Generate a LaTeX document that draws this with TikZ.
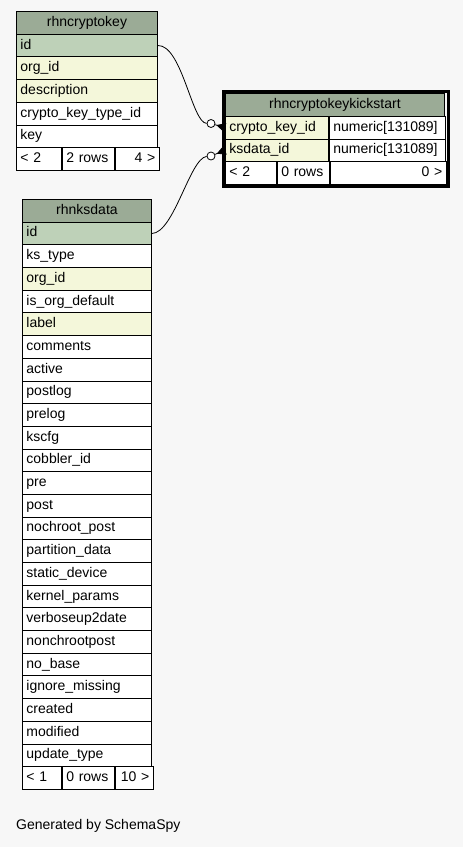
\documentclass[tikz,border=0pt]{standalone}
\usepackage{fontspec}
\setmainfont{Liberation Sans}
\usetikzlibrary{arrows.meta}
\definecolor{pagebg}{HTML}{F7F7F7}
\definecolor{headcol}{HTML}{9BAB96}
\definecolor{pkcol}{HTML}{BED1B8}
\definecolor{fkcol}{HTML}{F4F7DA}

\begin{document}
\begin{tikzpicture}[x=1pt,y=-1pt]
    \tikzstyle{cell}=[draw=black,line width=0.9pt,anchor=north west,inner xsep=4pt,inner ysep=0pt,text height=10pt,text depth=3pt,font=\fontsize{14}{16}\selectfont]
    \tikzstyle{odot}=[circle,draw=black,fill=white,line width=0.8pt,minimum size=8pt,inner sep=0pt]
    \tikzstyle{rel}=[line width=0.8pt]
    \tikzstyle{crow}=[line width=0.8pt,-{Triangle[reversed,length=9pt,width=9pt]}]

    \fill[pagebg] (0,0) rectangle (463,847);
    \useasboundingbox (0,0) rectangle (463,847);

    % rhncryptokey
    \node[cell,fill=headcol,minimum height=22.7pt,text width=133pt,align=center] (ck) at (16,11) {rhncryptokey};
    \foreach \fld/\fc [count=\i] in {id/pkcol, org\_id/fkcol, description/fkcol, crypto\_key\_type\_id/white, key/white}
        \node[cell,fill=\fc,minimum height=22.7pt,text width=133pt,align=left] (ck-\i) at (16,{11+22.7*\i}) {\fld};
    \node[cell,fill=white,minimum height=22.7pt,text width=37pt,align=left] (ck-prev) at (16,147.2) {< 2};
    \node[cell,fill=white,minimum height=22.7pt,text width=44pt,align=left] (ck-rows) at (ck-prev.north east) {2 rows};
    \node[cell,fill=white,minimum height=22.7pt,text width=36pt,align=right] (ck-next) at (ck-rows.north east) {4 >};

    % rhnksdata
    \node[cell,fill=headcol,minimum height=22.69pt,text width=121pt,align=center] (kd) at (22,199) {rhnksdata};
    \foreach \fld/\fc [count=\i] in {id/pkcol, ks\_type/white, org\_id/fkcol, is\_org\_default/white, label/fkcol,
            comments/white, active/white, postlog/white, prelog/white, kscfg/white, cobbler\_id/white, pre/white,
            post/white, nochroot\_post/white, partition\_data/white, static\_device/white, kernel\_params/white,
            verboseup2date/white, nonchrootpost/white, no\_base/white, ignore\_missing/white, created/white,
            modified/white, update\_type/white}
        \node[cell,fill=\fc,minimum height=22.69pt,text width=121pt,align=left] (kd-\i) at (22,{199+22.69*\i}) {\fld};
    \node[cell,fill=white,minimum height=22.69pt,text width=31pt,align=left] (kd-prev) at (22,766.25) {< 1};
    \node[cell,fill=white,minimum height=22.69pt,text width=44pt,align=left] (kd-rows) at (kd-prev.north east) {0 rows};
    \node[cell,fill=white,minimum height=22.69pt,text width=30pt,align=right] (kd-next) at (kd-rows.north east) {10 >};

    % rhncryptokeykickstart
    \node[cell,fill=headcol,minimum height=22.75pt,text width=211pt,align=center] (kk) at (225,93) {rhncryptokeykickstart};
    \foreach \fld [count=\i] in {crypto\_key\_id, ksdata\_id} {
        \node[cell,fill=fkcol,minimum height=22.75pt,text width=95pt,align=left] (kk-\i) at (225,{93+22.75*\i}) {\fld};
        \node[cell,fill=white,minimum height=22.75pt,text width=108pt,align=left] (kk-\i-t) at (kk-\i.north east) {numeric[131089]};
    }
    \node[cell,fill=white,minimum height=22.75pt,text width=43pt,align=left] (kk-prev) at (225,161.25) {< 2};
    \node[cell,fill=white,minimum height=22.75pt,text width=44pt,align=left] (kk-rows) at (kk-prev.north east) {0 rows};
    \node[cell,fill=white,minimum height=22.75pt,text width=108pt,align=right] (kk-next) at (kk-rows.north east) {0 >};
    \draw[line width=3pt] ([xshift=-1.5pt,yshift=1.5pt]kk.north west) rectangle ([xshift=1.5pt,yshift=-1.5pt]kk-next.south east);

    % relations
    \node[odot] (o1) at (211,123.5) {};
    \node[odot] (o2) at (211,156) {};
    \draw[rel] (ck-1.east) .. controls (182,45) and (192,123) .. (o1);
    \draw[crow] (o1) -- (kk-1.west);
    \draw[rel] (kd-1.east) .. controls (174,233) and (190,158) .. (o2);
    \draw[crow] (o2) -- (kk-2.west);

    \node[anchor=base west,inner sep=0pt,font=\fontsize{14}{16}\selectfont] (credit) at (16,829) {Generated by SchemaSpy};
\end{tikzpicture}
\end{document}
